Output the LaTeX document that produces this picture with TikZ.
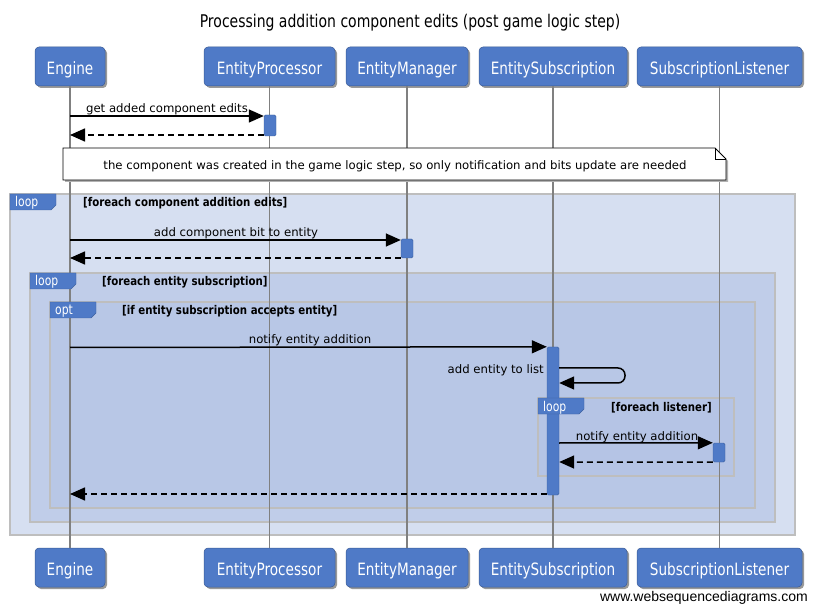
\documentclass[tikz,border=0pt]{standalone}
\usepackage{fontspec}
\setmainfont{DejaVu Sans}
\newfontfamily\hdrfont[FakeStretch=0.8]{DejaVu Sans}
\newfontfamily\lblfont[FakeStretch=0.85]{DejaVu Sans}
\newfontfamily\wmfont{Liberation Sans}
\usetikzlibrary{arrows.meta,shadows}
\definecolor{wsdblue}{RGB}{79,122,199}
\definecolor{fone}{RGB}{214,223,241}
\definecolor{ftwo}{RGB}{192,205,233}
\definecolor{fthree}{RGB}{184,199,230}
\definecolor{ffour}{RGB}{181,196,229}
\definecolor{fborder}{RGB}{190,190,190}
\begin{document}
\begin{tikzpicture}[x=1pt,y=-1pt,
  actor/.style={draw=wsdblue!75!black, line width=0.5pt, fill=wsdblue, rounded corners=4pt,
    text=white, font=\hdrfont\fontsize{17}{19}\selectfont, inner sep=0pt, minimum height=39pt,
    text height=16pt, text depth=0pt,
    drop shadow={shadow xshift=2pt,shadow yshift=-2pt,opacity=0.4,fill=black}},
  actbox/.style={draw=wsdblue!80!black, line width=0.4pt, fill=wsdblue, rounded corners=1.5pt,
    minimum width=12pt, inner sep=0pt},
  lifeline/.style={draw=black!50, line width=1.4pt},
  msg/.style={draw=black, line width=1.5pt, -{Triangle[length=15pt,width=13pt]}},
  ret/.style={draw=black, line width=1.5pt, dash pattern=on 6pt off 4pt, -{Triangle[length=15pt,width=13pt]}},
  mlabel/.style={font=\fontsize{11.7}{13}\selectfont, inner sep=0pt, anchor=base},
  frame/.style={draw=fborder, line width=1.8pt},
  tab/.style={fill=wsdblue, draw=wsdblue!80!black, line width=0.4pt},
  tabtext/.style={text=white, font=\hdrfont\fontsize{13.5}{15}\selectfont, inner sep=0pt, anchor=base west},
  guard/.style={font=\lblfont\bfseries\fontsize{12}{14}\selectfont, inner sep=0pt, anchor=base west},
]
\useasboundingbox (0,0) rectangle (817,612);
\fill[white] (0,0) rectangle (817,612);

% title
\node[font=\hdrfont\fontsize{17.5}{20}\selectfont, inner sep=0pt, anchor=base] (title) at (410,28) {Processing addition component edits (post game logic step)};

% frames
\draw[frame, fill=fone] (10,194) rectangle (795,535);
\draw[frame, fill=ftwo] (30,273) rectangle (775,522);
\draw[frame, fill=fthree] (50,302) rectangle (755,508);
\draw[frame, fill=ffour] (538,398) rectangle (734,476);

% actors
\node[actor, minimum width=70pt] (eng) at (70,66.5) {Engine};
\node[actor, minimum width=131pt] (ep) at (269.5,66.5) {EntityProcessor};
\node[actor, minimum width=122pt] (em) at (407,66.5) {EntityManager};
\node[actor, minimum width=148pt] (es) at (553,66.5) {EntitySubscription};
\node[actor, minimum width=165pt] (sl) at (719.5,66.5) {SubscriptionListener};
\node[actor, minimum width=70pt] (engb) at (70,567.5) {Engine};
\node[actor, minimum width=131pt] (epb) at (269.5,567.5) {EntityProcessor};
\node[actor, minimum width=122pt] (emb) at (407,567.5) {EntityManager};
\node[actor, minimum width=148pt] (esb) at (553,567.5) {EntitySubscription};
\node[actor, minimum width=165pt] (slb) at (719.5,567.5) {SubscriptionListener};

% lifelines
\draw[lifeline] (eng.south) -- (engb.north);
\draw[lifeline] (ep.south) -- (epb.north);
\draw[lifeline] (em.south) -- (emb.north);
\draw[lifeline] (es.south) -- (esb.north);
\draw[lifeline] (sl.south) -- (slb.north);

% tabs
\draw[tab] (10,194) -- (56,194) -- (56,205) -- (51,210) -- (10,210) -- cycle;
\node[tabtext] (t1) at (15,207) {loop};
\node[guard] (g1) at (83,207) {[foreach component addition edits]};
\draw[tab] (30,273) -- (76,273) -- (76,284) -- (71,289) -- (30,289) -- cycle;
\node[tabtext] (t2) at (35,286) {loop};
\node[guard] (g2) at (102,286) {[foreach entity subscription]};
\draw[tab] (50,302) -- (96,302) -- (96,313) -- (91,318) -- (50,318) -- cycle;
\node[tabtext] (t3) at (55,315) {opt};
\node[guard] (g3) at (122,315) {[if entity subscription accepts entity]};

% note
\fill[black!30] (65,150) -- (717,150) -- (728,161) -- (728,182) -- (65,182) -- cycle;
\draw[fill=white, line width=0.8pt] (63,148) -- (715,148) -- (726,159) -- (726,180) -- (63,180) -- cycle;
\draw[line width=0.8pt] (715,148) -- (715,159) -- (726,159);
\node[mlabel] (note) at (395,169.5) {the component was created in the game logic step, so only notification and bits update are needed};

% activations
\node[actbox, minimum height=21pt] (a1) at (270,125.5) {};
\node[actbox, minimum height=19pt] (a2) at (407,248.5) {};
\node[actbox, minimum height=148pt] (a3) at (553,421) {};
\node[actbox, minimum height=19pt] (a4) at (719,452.5) {};

% inner loop tab (over the activation bar)
\draw[tab] (538,398) -- (584,398) -- (584,409) -- (579,414) -- (538,414) -- cycle;
\node[tabtext] (t4) at (543,411) {loop};
\node[guard] (g4) at (611,411) {[foreach listener]};

% messages
\coordinate (m1) at (70,116);
\draw[msg] (m1) -- (a1.west |- m1);
\node[mlabel] (l1) at (167,112.5) {get added component edits};
\coordinate (r1) at (70,135);
\draw[ret] (a1.west |- r1) -- (r1);

\coordinate (m2) at (70,240);
\draw[msg] (m2) -- (a2.west |- m2);
\node[mlabel] (l2) at (236,236.5) {add component bit to entity};
\coordinate (r2) at (70,258);
\draw[ret] (a2.west |- r2) -- (r2);

\coordinate (m3) at (70,347.5);
\draw[msg] (m3) -- (a3.north west);
\node[mlabel] (l3) at (310,343.5) {notify entity addition};

\coordinate (s1) at (625,368);
\coordinate (s2) at (625,383);
\draw[msg, rounded corners=7pt] (a3.east |- s1) -- (s1) -- (s2) -- (a3.east |- s2);
\node[mlabel, anchor=base east] (l4) at (544,373.5) {add entity to list};

\coordinate (m5) at (559,443);
\draw[msg] (a3.east |- m5) -- (a4.north west);
\node[mlabel] (l5) at (637,440.5) {notify entity addition};
\coordinate (r5) at (559,462);
\draw[ret] (a4.south west) -- (a3.east |- r5);

\coordinate (r3) at (70,494);
\draw[ret] (a3.west |- r3) -- (r3);

% watermark
\node[font=\wmfont\fontsize{14}{16}\selectfont, anchor=base east, inner sep=0pt] (wm) at (808,601) {www.websequencediagrams.com};
\end{tikzpicture}
\end{document}
